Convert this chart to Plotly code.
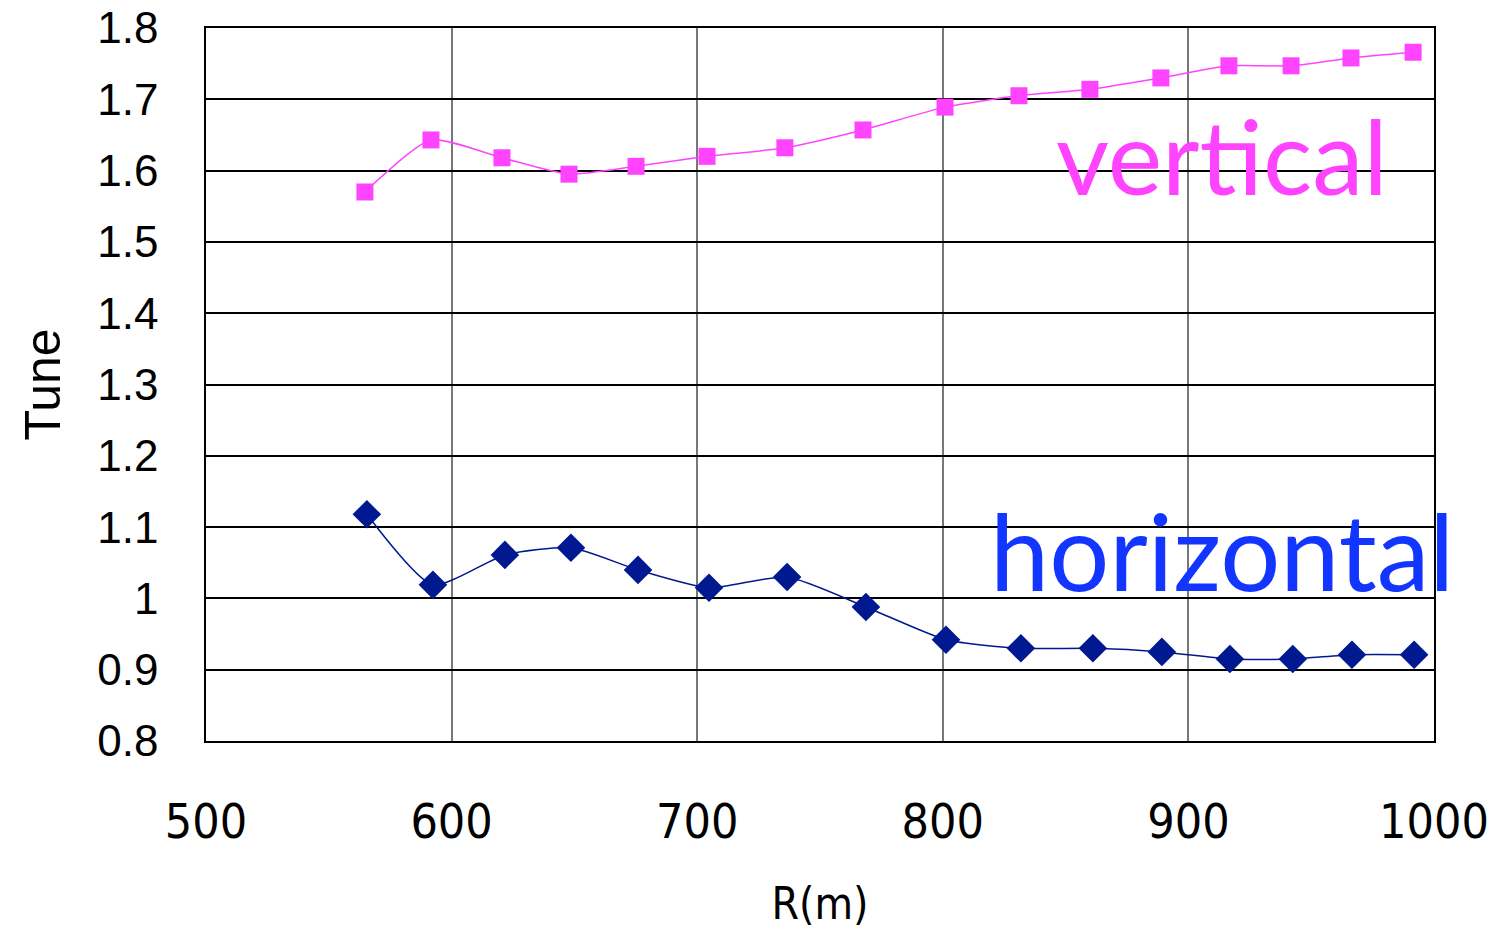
import plotly.graph_objects as go

r_vertical = [564.7, 591.6, 620.5, 647.8, 675.1, 704.0, 735.7, 767.5, 800.9, 831.0, 859.9, 888.8, 916.5, 941.8, 966.2, 991.5]
tune_vertical = [1.570, 1.643, 1.618, 1.595, 1.606, 1.620, 1.632, 1.657, 1.689, 1.705, 1.714, 1.730, 1.747, 1.747, 1.758, 1.766]

r_horizontal = [565.5, 592.4, 621.7, 648.6, 675.9, 704.8, 736.6, 768.7, 801.3, 831.8, 861.1, 889.2, 916.9, 942.5, 966.6, 991.9]
tune_horizontal = [1.118, 1.019, 1.061, 1.071, 1.040, 1.015, 1.030, 0.988, 0.942, 0.930, 0.930, 0.925, 0.915, 0.915, 0.921, 0.921]

x_ticks = [500, 600, 700, 800, 900, 1000]
y_ticks = [0.8, 0.9, 1.0, 1.1, 1.2, 1.3, 1.4, 1.5, 1.6, 1.7, 1.8]
y_tick_text = ["0.8", "0.9", "1", "1.1", "1.2", "1.3", "1.4", "1.5", "1.6", "1.7", "1.8"]

narrow = "Liberation Sans Narrow, DejaVu Sans Condensed, Liberation Sans"

fig = go.Figure()
fig.add_trace(go.Scatter(
    x=r_vertical, y=tune_vertical, mode="lines+markers",
    line=dict(color="#FF44FF", width=1.5, shape="spline", smoothing=0.6),
    marker=dict(symbol="square", size=17, color="#FF44FF"),
    showlegend=False))
fig.add_trace(go.Scatter(
    x=r_horizontal, y=tune_horizontal, mode="lines+markers",
    line=dict(color="#001890", width=1.5, shape="spline", smoothing=0.6),
    marker=dict(symbol="diamond", size=22, color="#001890"),
    showlegend=False))

fig.add_annotation(x=913.8, y=1.622, xref="x", yref="y", text="vertical",
                   showarrow=False, font=dict(family="Lato, Open Sans, sans-serif", size=103, color="#FF44FF"))
fig.add_annotation(x=913.7, y=1.068, xref="x", yref="y", text="horizontal",
                   showarrow=False, font=dict(family="Lato, Open Sans, sans-serif", size=106, color="#1236FF"))

fig.update_layout(
    width=1495, height=931,
    margin=dict(l=206, r=61, t=28, b=190),
    paper_bgcolor="white", plot_bgcolor="white",
    xaxis=dict(range=[500, 1000], tickvals=x_ticks, ticks="", automargin=False,
               showgrid=True, gridcolor="#777777", gridwidth=2,
               showline=True, linecolor="black", linewidth=1.5, mirror=True,
               zeroline=False, ticklabeloverflow="allow",
               tickfont=dict(family=narrow, size=48, color="black"),
               ticklabelstandoff=38,
               title=dict(text="R(m)", standoff=40,
                          font=dict(family=narrow, size=44, color="black"))),
    yaxis=dict(range=[0.8, 1.8], tickvals=y_ticks, ticktext=y_tick_text, ticks="", automargin=False,
               showgrid=True, gridcolor="black", gridwidth=1.5,
               showline=True, linecolor="black", linewidth=1.5, mirror=True,
               zeroline=False, ticklabeloverflow="allow",
               tickfont=dict(family="Liberation Sans, Arial, sans-serif", size=44, color="black"),
               ticklabelstandoff=37,
               title=dict(text="Tune", standoff=21,
                          font=dict(family="Liberation Sans, Arial, sans-serif", size=50, color="black"))),
)

fig.write_html("out.html", config={"displayModeBar": False},
               post_script="document.body.style.margin='0';")
